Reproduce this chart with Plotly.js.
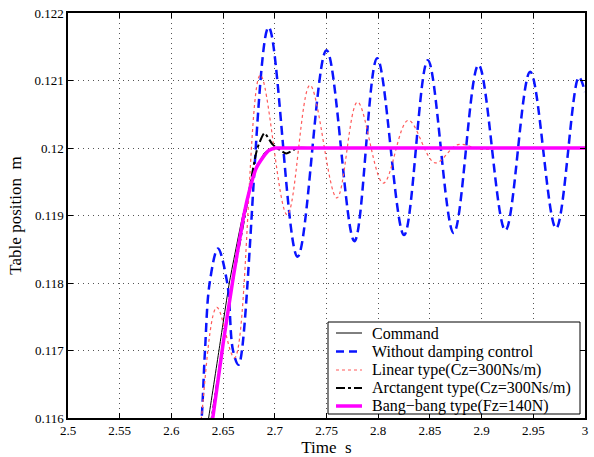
<!DOCTYPE html>
<html>
<head>
<meta charset="utf-8">
<script src="https://cdn.plot.ly/plotly-3.0.1.min.js"></script>
<style>html,body{margin:0;padding:0;background:#fff;}#chart{width:594px;height:457px;}</style>
</head>
<body>
<div id="chart"></div>
<script>
// Command
const cmdT = [2.630, 2.636, 2.646, 2.656, 2.669, 2.680, 2.690, 2.700, 2.710, 2.750, 3.000];
const cmdY = [0.1154, 0.1160, 0.1170, 0.1180, 0.1190, 0.11960, 0.11993, 0.1200, 0.1200, 0.1200, 0.1200];
// Without damping control
const noT = [2.624, 2.6293, 2.6325, 2.637, 2.645, 2.654, 2.6596, 2.665, 2.694, 2.722, 2.750, 2.777, 2.799, 2.825, 2.848, 2.873, 2.897, 2.923, 2.947, 2.972, 2.994, 3.000];
const noY = [0.1150, 0.1160, 0.1170, 0.1180, 0.11851, 0.1180, 0.1170, 0.11679, 0.12179, 0.11839, 0.12145, 0.11862, 0.12133, 0.11871, 0.12130, 0.11874, 0.12123, 0.11878, 0.12113, 0.11881, 0.12105, 0.12083];
// Linear type
const linT = [2.624, 2.629, 2.644, 2.661, 2.686, 2.712, 2.734, 2.760, 2.780, 2.805, 2.829, 2.855, 2.877, 2.900, 2.920, 2.950, 3.000];
const linY = [0.1150, 0.1160, 0.11764, 0.11689, 0.12108, 0.11901, 0.12093, 0.11926, 0.12068, 0.11948, 0.12041, 0.11978, 0.12005, 0.11998, 0.1200, 0.1200, 0.1200];
// Arctangent type
const atT = [2.630, 2.639, 2.649, 2.659, 2.671, 2.683, 2.690, 2.698, 2.711, 2.722, 2.735, 2.800, 3.000];
const atY = [0.1151, 0.1160, 0.1170, 0.1180, 0.1190, 0.11999, 0.12022, 0.12005, 0.11992, 0.1200, 0.1200, 0.1200, 0.1200];
// Bang-bang type
const bbT = [2.634, 2.640, 2.650, 2.660, 2.670, 2.676, 2.682, 2.688, 2.694, 2.700, 2.710, 2.750, 3.000];
const bbY = [0.1154, 0.1160, 0.1171, 0.1181, 0.1190, 0.1194, 0.1197, 0.11985, 0.11996, 0.1200, 0.1200, 0.1200, 0.1200];

const xTicks = [2.5, 2.55, 2.6, 2.65, 2.7, 2.75, 2.8, 2.85, 2.9, 2.95, 3];
const xTickText = ['2.5', '2.55', '2.6', '2.65', '2.7', '2.75', '2.8', '2.85', '2.9', '2.95', '3'];
const yTicks = [0.116, 0.117, 0.118, 0.119, 0.12, 0.121, 0.122];
const yTickText = ['0.116', '0.117', '0.118', '0.119', '0.12', '0.121', '0.122'];
const names = ['Command', 'Without damping control', 'Linear type(Cz=300Ns/m)', 'Arctangent type(Cz=300Ns/m)', 'Bang\u2212bang type(Fz=140N)'];

const FONT = '"Liberation Serif", "Times New Roman", Times, serif';

const styles = [
  {color: '#000', width: 1},
  {color: '#0a14ff', width: 2.5, dash: '9px,5px'},
  {color: '#ff5a5a', width: 1.2, dash: 'dot'},
  {color: '#000', width: 2, dash: 'dashdot'},
  {color: '#ff00ff', width: 3.5}
];
const smooth = [0.4, 1, 1, 0.5, 0.4];
const xs = [cmdT, noT, linT, atT, bbT];
const ys = [cmdY, noY, linY, atY, bbY];

const traces = xs.map((x, i) => ({
  x: x, y: ys[i], name: names[i], mode: 'lines', showlegend: false,
  line: Object.assign({shape: 'spline', smoothing: smooth[i]}, styles[i])
}));

// Plot area geometry (pixels) used to place the hand-built legend box
const L = 68, T = 13, W = 517, H = 405;
const px = p => (p - L) / W;
const py = p => (T + H - p) / H;
const shapes = [{
  type: 'rect', xref: 'paper', yref: 'paper', layer: 'above',
  x0: px(328), x1: px(580), y0: py(414), y1: py(322),
  line: {color: '#000', width: 1}, fillcolor: '#fff'
}];
const annotations = [];
const rowY = [333, 351.5, 370, 388, 406];
names.forEach((n, i) => {
  shapes.push({
    type: 'line', xref: 'paper', yref: 'paper', layer: 'above',
    x0: px(336), x1: px(362), y0: py(rowY[i]), y1: py(rowY[i]),
    line: Object.assign({}, styles[i], styles[i].dash === '9px,5px' ? {dash: '8px,5px'} : {})
  });
  annotations.push({
    xref: 'paper', yref: 'paper', x: px(370), y: py(rowY[i]),
    xanchor: 'left', yanchor: 'middle', showarrow: false, text: n,
    font: {family: FONT, size: 16, color: '#000'}
  });
});

const axisCommon = {
  showline: true, linecolor: '#000', linewidth: 1.6, mirror: 'allticks',
  ticks: 'inside', ticklen: 5, tickcolor: '#000', tickwidth: 1,
  showgrid: true, gridcolor: '#555', griddash: '1px,4px', gridwidth: 1,
  zeroline: false, tickfont: {family: FONT, size: 13, color: '#000'}
};

const layout = {
  width: 594, height: 457,
  margin: {l: L, r: 594 - L - W, t: T, b: 457 - T - H},
  paper_bgcolor: '#fff', plot_bgcolor: '#fff',
  font: {family: FONT, color: '#000'},
  showlegend: false,
  xaxis: Object.assign({}, axisCommon, {
    range: [2.5, 3], tickmode: 'array', tickvals: xTicks, ticktext: xTickText,
    title: {text: 'Time  s', font: {family: FONT, size: 17}, standoff: 4}
  }),
  yaxis: Object.assign({}, axisCommon, {
    range: [0.116, 0.122], tickmode: 'array', tickvals: yTicks, ticktext: yTickText,
    title: {text: 'Table position  m', font: {family: FONT, size: 17}, standoff: 8}
  }),
  shapes: shapes,
  annotations: annotations
};

Plotly.newPlot('chart', traces, layout, {displayModeBar: false, staticPlot: true});
</script>
</body>
</html>
